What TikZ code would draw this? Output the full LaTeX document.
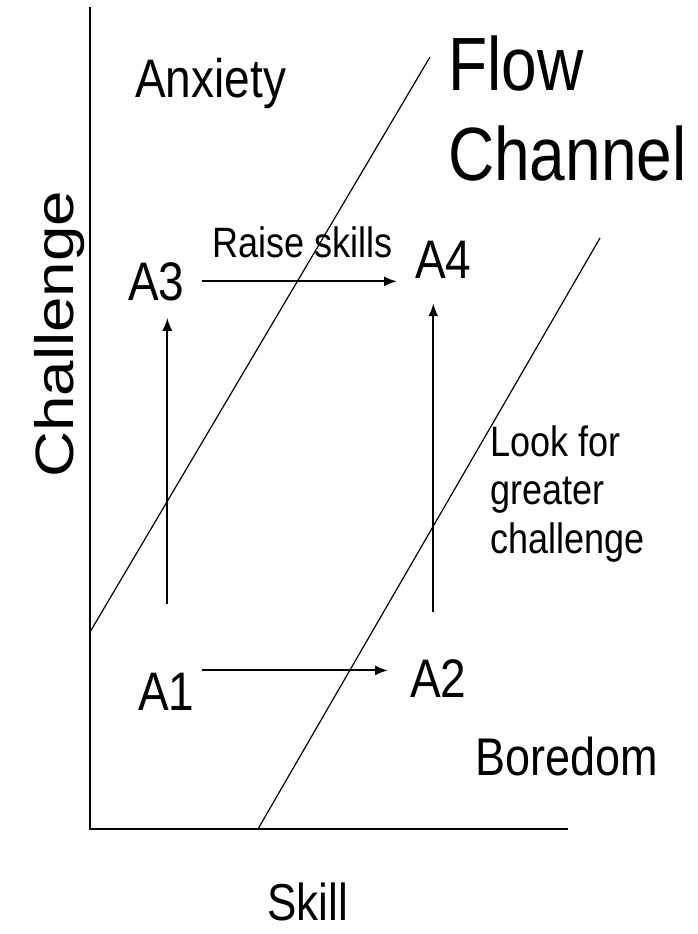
\documentclass[tikz,border=0pt]{standalone}
\usepackage{fontspec}
\setsansfont{Liberation Sans}
\usepackage{tikz}
\usetikzlibrary{arrows.meta,positioning,calc}

\begin{document}
\begin{tikzpicture}[
    x=1pt, y=-1pt,
    font=\sffamily,
    zone_lbl/.style={inner sep=0pt, anchor=base west, yscale=1.18, align=left},
    state_lbl/.style={zone_lbl, font=\sffamily\fontsize{46}{50}\selectfont},
    axis_line/.style={line width=2.5pt},
    chan_line/.style={line width=1.2pt},
    move_arrow/.style={line width=2pt, -{Latex[length=13pt,width=10pt]}}
]
\useasboundingbox (0,0) rectangle (697,934);

% axes
\coordinate (origin) at (90,829);
\coordinate (ytop) at (90,7);
\coordinate (xend) at (568,829);
\draw[axis_line] (ytop) -- (origin) -- (xend);

% flow channel borders
\coordinate (up_lo) at (90,632);
\coordinate (up_hi) at (430,57);
\coordinate (dn_lo) at (258,829);
\coordinate (dn_hi) at (600,238);
\draw[chan_line] (up_lo) -- (up_hi);
\draw[chan_line] (dn_lo) -- (dn_hi);

% zone labels
\node[zone_lbl, font=\sffamily\fontsize{46}{50}\selectfont] (anx) at (135,97) {Anxiety};
\node[zone_lbl, font=\sffamily\fontsize{64}{76}\selectfont] (flow) at (448,180) {Flow\\Channel};
\node[zone_lbl, font=\sffamily\fontsize{45}{50}\selectfont] (bore) at (475,775) {Boredom};

% axis labels
\node[zone_lbl, font=\sffamily\fontsize{44}{50}\selectfont] (skill) at (267,920) {Skill};
\node[inner sep=0pt, anchor=base west, rotate=90, xscale=1.18,
      font=\sffamily\fontsize{54}{60}\selectfont] (chal) at (73,478) {Challenge};

% states
\node[state_lbl] (A3) at (128,300) {A3};
\node[state_lbl] (A4) at (415,278) {A4};
\node[state_lbl] (A1) at (138,710) {A1};
\node[state_lbl] (A2) at (410,697) {A2};

% moves
\draw[move_arrow, shorten <=17pt, shorten >=18pt] (A3.east) -- (A3.east -| A4.west);
\draw[move_arrow, shorten <=7pt, shorten >=22pt] ([yshift=2pt]A1.north east) -- ([yshift=2pt]A1.north east -| A2.west);
\draw[move_arrow, shorten <=68pt, shorten >=17pt] ([xshift=1pt]A1.north) -- ([xshift=1pt]A1.north |- A3.south);
\draw[move_arrow, shorten <=47pt, shorten >=25pt] ([xshift=-5pt]A2.north) -- ([xshift=-5pt]A2.north |- A4.south);

\node[zone_lbl, font=\sffamily\fontsize{36}{40}\selectfont] (raise) at (212,257) {Raise skills};
\node[zone_lbl, font=\sffamily\fontsize{36}{41}\selectfont] (look) at (490,553) {Look for\\greater\\challenge};

\end{tikzpicture}
\end{document}
